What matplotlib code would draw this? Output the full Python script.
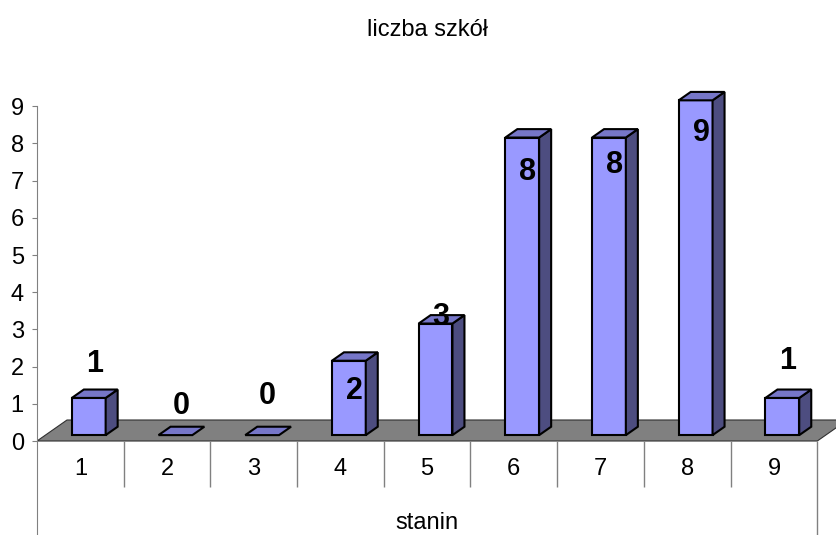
import matplotlib
matplotlib.use('Agg')
import matplotlib.pyplot as plt
from matplotlib.patches import Polygon

plt.rcParams['font.family'] = ['Liberation Sans', 'DejaVu Sans']

categories = ['1', '2', '3', '4', '5', '6', '7', '8', '9']
counts = [1, 0, 0, 2, 3, 8, 8, 9, 1]
# where Excel put each value label, relative to the top of its bar
label_shift = [1.07, 0.94, 1.20, -0.66, 0.33, -0.77, -0.58, -0.72, 1.15]
yticks = list(range(0, 10))
title = 'liczba szkół'
xlabel = 'stanin'

W, H = 837, 535
px_x, px_y = 86.7, 37.2          # pixels per category / per unit
D = (30 / px_x, 21 / px_y)       # depth of the floor, data units
f0, f1 = 0.28, 0.68              # bar front / back inside the floor depth
bw = 0.39

c_front, c_top, c_side = '#9999FF', '#7676C8', '#4D4D80'


def proj(x, y, z):
    return (x + z * D[0], y + z * D[1])


fig = plt.figure(figsize=(W / 100, H / 100), dpi=100)
ax = fig.add_axes([37 / W, 0, 800 / W, 1])
ymin = -94 / px_y
ax.set_xlim(0.5, 0.5 + 800 / px_x)
ax.set_ylim(ymin, 441 / px_y)

n = len(categories)
xs = list(range(1, n + 1))

# floor
floor = [proj(0.5, 0, 0), proj(n + 0.5, 0, 0), proj(n + 0.5, 0, 1), proj(0.5, 0, 1)]
ax.add_patch(Polygon(floor, closed=True, fc='#808080', ec='#303030', lw=0.8, zorder=1))

for x, v, dy in zip(xs, counts, label_shift):
    x0, x1 = x - bw / 2, x + bw / 2
    top = [proj(x0, v, f0), proj(x1, v, f0), proj(x1, v, f1), proj(x0, v, f1)]
    if v > 0:
        front = [proj(x0, 0, f0), proj(x1, 0, f0), proj(x1, v, f0), proj(x0, v, f0)]
        side = [proj(x1, 0, f0), proj(x1, 0, f1), proj(x1, v, f1), proj(x1, v, f0)]
        ax.add_patch(Polygon(front, closed=True, fc=c_front, ec='black', lw=1.5, zorder=2))
        ax.add_patch(Polygon(side, closed=True, fc=c_side, ec='black', lw=1.5, zorder=2))
    ax.add_patch(Polygon(top, closed=True, fc=c_top, ec='black', lw=1.5, zorder=2))
    ax.text(x + 0.16, v + dy, str(v), ha='center', va='center', fontsize=22,
            fontweight='bold', zorder=3)

# category table below the floor
ax.vlines([x + 0.5 for x in xs[:-1]], -46 / px_y, 0, color='#808080', lw=1)
ax.vlines(n + 0.5, ymin, 0, color='#808080', lw=1)
for x, c in zip(xs, categories):
    ax.text(x, -28 / px_y, c, ha='center', va='center', fontsize=17)

ax.text((n + 1) / 2, -82 / px_y, xlabel, ha='center', va='center', fontsize=17)
ax.text((n + 1) / 2, 411 / px_y, title, ha='center', va='center', fontsize=17)

for s in ['top', 'right', 'bottom']:
    ax.spines[s].set_visible(False)
ax.spines['left'].set_bounds(ymin, yticks[-1])
ax.spines['left'].set_color('#808080')
ax.set_yticks(yticks)
ax.tick_params(axis='y', direction='out', length=3.5, color='#808080',
               labelsize=17, pad=6)
ax.set_xticks([])

fig.savefig('out.png', dpi=100)
